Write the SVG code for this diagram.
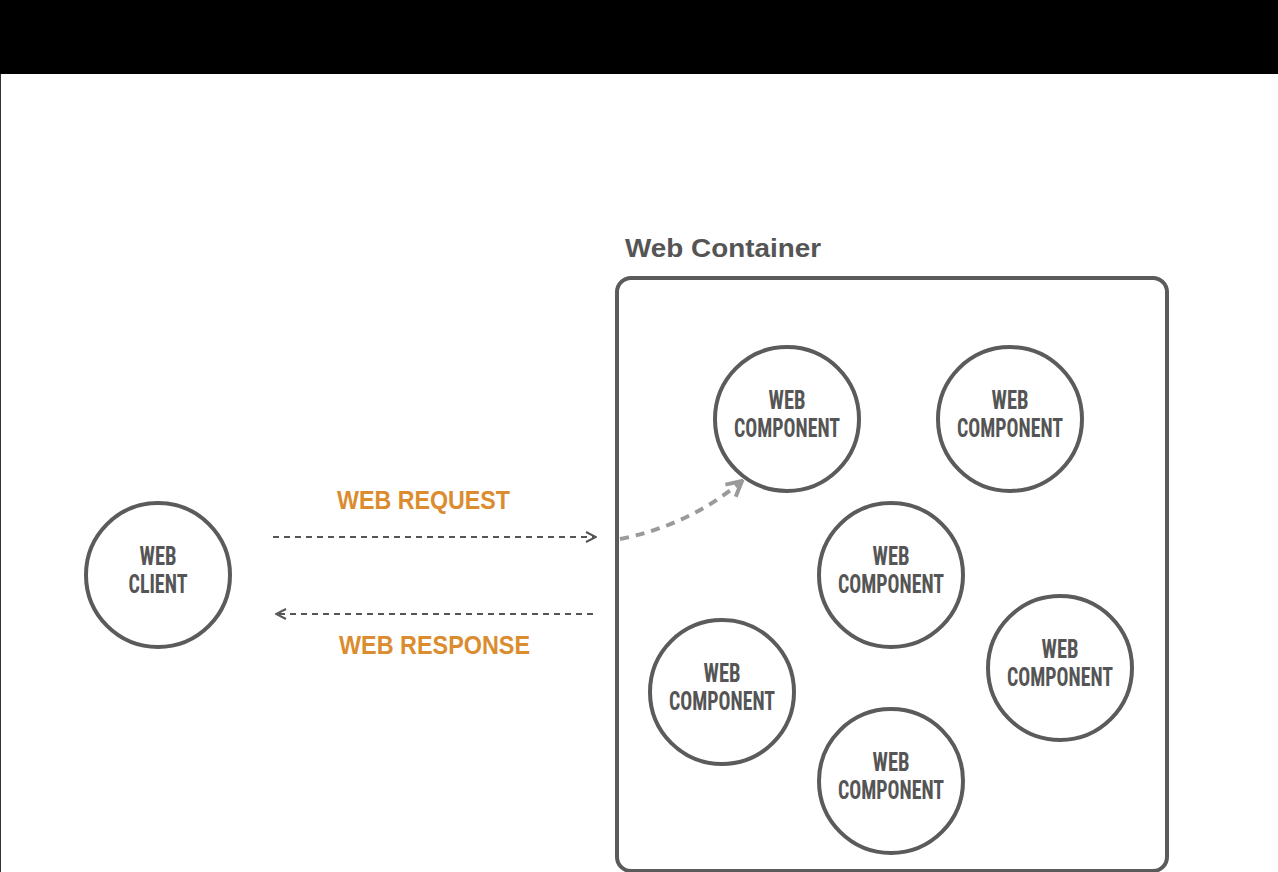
<svg xmlns="http://www.w3.org/2000/svg" width="1278" height="872" viewBox="0 0 1278 872">
<defs>
<style>
.node{fill:#fff;stroke:#5b5b5b;stroke-width:4}
.nt{font-family:"Liberation Sans Narrow","Roboto Condensed","Liberation Sans",sans-serif;font-size:26px;font-weight:bold;fill:#555;text-anchor:middle}
.lbl{font-family:"Liberation Sans",sans-serif;font-size:25px;font-weight:bold;fill:#da8c2f}
.dash{fill:none;stroke:#555;stroke-width:2;stroke-dasharray:6 5}
.curve{fill:none;stroke:#9a9a9a;stroke-width:4;stroke-dasharray:9 7}
</style>
<marker id="ah" viewBox="0 0 12 12" refX="11" refY="6" markerWidth="12" markerHeight="12" markerUnits="userSpaceOnUse" orient="auto">
<path d="M1,1 L11,6 L1,11" fill="none" stroke="#555" stroke-width="2"/>
</marker>
<marker id="ah2" viewBox="0 0 20 20" refX="18" refY="10" markerWidth="20" markerHeight="20" markerUnits="userSpaceOnUse" orient="auto">
<path d="M3,2 L18,10 L3,18" fill="none" stroke="#9a9a9a" stroke-width="4"/>
</marker>
</defs>
<rect x="0" y="0" width="1278" height="872" fill="#fff"/>
<rect x="0" y="0" width="1278" height="74" fill="#000"/>
<line x1="0.5" y1="74" x2="0.5" y2="872" stroke="#333" stroke-width="1"/>

<g id="container">
<rect x="617" y="278" width="550" height="593" rx="14" fill="none" stroke="#5b5b5b" stroke-width="4"/>
<text x="625" y="257" font-family="Liberation Sans,sans-serif" font-size="26" font-weight="bold" fill="#555" textLength="196" lengthAdjust="spacingAndGlyphs">Web Container</text>
</g>

<g id="connectors">
<line class="dash" x1="273" y1="537" x2="596" y2="537" marker-end="url(#ah)"/>
<line class="dash" x1="593" y1="614" x2="276" y2="614" marker-end="url(#ah)"/>
<path class="curve" d="M620,539 Q690,525 742,481" marker-end="url(#ah2)"/>
<text class="lbl" x="337" y="509" textLength="173" lengthAdjust="spacingAndGlyphs">WEB REQUEST</text>
<text class="lbl" x="339" y="654" textLength="191" lengthAdjust="spacingAndGlyphs">WEB RESPONSE</text>
</g>

<g id="client">
<circle class="node" cx="158" cy="575" r="72"/>
<text class="nt" x="158" y="565" textLength="37" lengthAdjust="spacingAndGlyphs">WEB</text>
<text class="nt" x="158" y="593" textLength="59" lengthAdjust="spacingAndGlyphs">CLIENT</text>
</g>

<g id="comp1">
<circle class="node" cx="787" cy="419" r="72"/>
<text class="nt" x="787" y="409" textLength="37" lengthAdjust="spacingAndGlyphs">WEB</text>
<text class="nt" x="787" y="437" textLength="106" lengthAdjust="spacingAndGlyphs">COMPONENT</text>
</g>
<g id="comp2">
<circle class="node" cx="1010" cy="419" r="72"/>
<text class="nt" x="1010" y="409" textLength="37" lengthAdjust="spacingAndGlyphs">WEB</text>
<text class="nt" x="1010" y="437" textLength="106" lengthAdjust="spacingAndGlyphs">COMPONENT</text>
</g>
<g id="comp3">
<circle class="node" cx="891" cy="575" r="72"/>
<text class="nt" x="891" y="565" textLength="37" lengthAdjust="spacingAndGlyphs">WEB</text>
<text class="nt" x="891" y="593" textLength="106" lengthAdjust="spacingAndGlyphs">COMPONENT</text>
</g>
<g id="comp4">
<circle class="node" cx="722" cy="692" r="72"/>
<text class="nt" x="722" y="682" textLength="37" lengthAdjust="spacingAndGlyphs">WEB</text>
<text class="nt" x="722" y="710" textLength="106" lengthAdjust="spacingAndGlyphs">COMPONENT</text>
</g>
<g id="comp5">
<circle class="node" cx="1060" cy="668" r="72"/>
<text class="nt" x="1060" y="658" textLength="37" lengthAdjust="spacingAndGlyphs">WEB</text>
<text class="nt" x="1060" y="686" textLength="106" lengthAdjust="spacingAndGlyphs">COMPONENT</text>
</g>
<g id="comp6">
<circle class="node" cx="891" cy="781" r="72"/>
<text class="nt" x="891" y="771" textLength="37" lengthAdjust="spacingAndGlyphs">WEB</text>
<text class="nt" x="891" y="799" textLength="106" lengthAdjust="spacingAndGlyphs">COMPONENT</text>
</g>
</svg>
